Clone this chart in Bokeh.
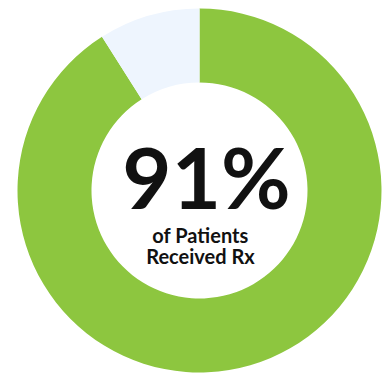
from bokeh.plotting import figure
from bokeh.models import Range1d, ColumnDataSource
from bokeh.core.properties import value
from bokeh.embed import file_html
from bokeh.resources import INLINE
import math

categories = ["Received Rx", "Did Not Receive Rx"]
percents = [91, 9]
colors = ["#8DC63F", "#EEF5FE"]
headline = "91%"
sub_lines = ["of Patients", "Received Rx"]

W, H = 391, 373
cx, cy = 199, H - 190
r_out, r_in = 182, 108

total = sum(percents)
starts, ends = [], []
acc = 0.0
for v in percents:
    a0 = math.pi / 2 - 2 * math.pi * (acc + v) / total
    a1 = math.pi / 2 - 2 * math.pi * acc / total
    starts.append(a0)
    ends.append(a1)
    acc += v

src = ColumnDataSource(dict(cat=categories, val=percents, color=colors,
                            start=starts, end=ends,
                            x=[cx] * len(percents), y=[cy] * len(percents)))

p = figure(width=W, height=H, output_backend="svg", toolbar_location=None,
           x_range=Range1d(0, W), y_range=Range1d(0, H), min_border=0)
p.axis.visible = False
p.grid.visible = False
p.outline_line_color = None
p.background_fill_color = "white"
p.border_fill_color = "white"

p.annular_wedge(x="x", y="y", inner_radius=r_in, outer_radius=r_out,
                start_angle="start", end_angle="end", fill_color="color",
                line_color=None, source=src)

p.text(x=[cx + 7], y=[H - 175], text=[headline], text_font=value("Lato"),
       text_font_style="bold", text_font_size="85px", text_align="center",
       text_baseline="middle", text_color="#111111")
p.text(x=[cx + 1, cx + 1], y=[H - 234, H - 255], text=sub_lines,
       text_font=value("Lato"), text_font_style="bold", text_font_size="20px",
       text_align="center", text_baseline="middle", text_color="#111111")

open("out.html", "w").write(file_html(p, INLINE))
